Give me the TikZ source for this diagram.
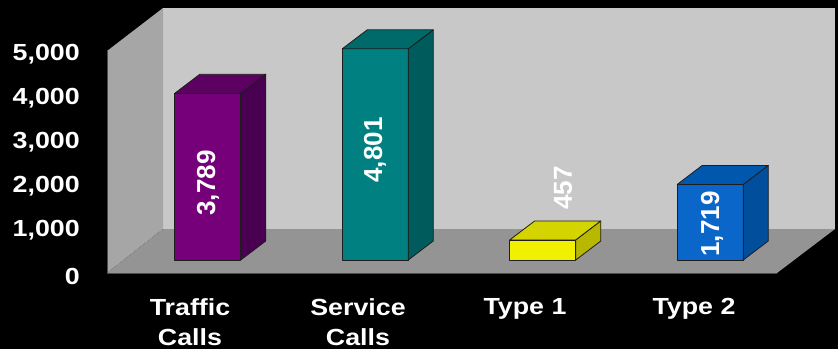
\documentclass[tikz,border=0pt]{standalone}
\usepackage{fontspec}
\usepackage{graphicx}
\setmainfont{Liberation Sans}
\definecolor{bg}{RGB}{0,0,0}
\definecolor{backwall}{RGB}{200,200,200}
\definecolor{sidewall}{RGB}{166,166,166}
\definecolor{floorc}{RGB}{148,148,148}
\definecolor{edge}{RGB}{30,30,30}
\definecolor{purF}{RGB}{118,0,122}
\definecolor{purS}{RGB}{74,0,80}
\definecolor{purT}{RGB}{92,0,98}
\definecolor{tealF}{RGB}{0,128,128}
\definecolor{tealS}{RGB}{0,92,92}
\definecolor{tealT}{RGB}{0,106,106}
\definecolor{yelF}{RGB}{240,240,0}
\definecolor{yelS}{RGB}{184,184,0}
\definecolor{yelT}{RGB}{212,212,0}
\definecolor{bluF}{RGB}{10,102,200}
\definecolor{bluS}{RGB}{0,78,156}
\definecolor{bluT}{RGB}{0,88,174}
\newcommand{\sx}[1]{\scalebox{1.15}[1]{#1}}
\newcommand{\drawcol}[5]{%
  \filldraw[fill=#3, draw=edge, line width=0.8pt, line join=round] (#1,260) rectangle (#1+66,#2);
  \filldraw[fill=#4, draw=edge, line width=0.8pt, line join=round] (#1+66,260) -- (#1+91,241) -- (#1+91,#2-19) -- (#1+66,#2) -- cycle;
  \filldraw[fill=#5, draw=edge, line width=0.8pt, line join=round] (#1,#2) -- (#1+66,#2) -- (#1+91,#2-19) -- (#1+25,#2-19) -- cycle;
}
\tikzset{
  axislabel/.style={anchor=east, inner sep=0pt, text=white, font=\fontsize{23.3}{28}\selectfont\bfseries},
  catlabel/.style={anchor=north, inner sep=0pt, align=center, text=white, font=\fontsize{23.3}{30}\selectfont\bfseries},
  vallabel/.style={rotate=90, inner sep=0pt, text=white, font=\fontsize{26}{30}\selectfont\bfseries}
}
\begin{document}
\begin{tikzpicture}[x=1pt, y=-1pt]
  \fill[bg] (0,0) rectangle (838,349);
  \useasboundingbox (0,0) rectangle (838,349);
  % walls and floor
  \fill[backwall] (163,8) rectangle (835,229);
  \fill[sidewall] (107,51) -- (163,8) -- (163,229) -- (107,273) -- cycle;
  \fill[floorc] (107,273) -- (163,229) -- (835,229) -- (777,273) -- cycle;
  \draw[gray!60!black, line width=0.6pt] (107,51) -- (107,273) -- (777,273);
  % axis labels
  \node[axislabel] (y0) at (80,276) {\sx{0}};
  \node[axislabel] (y1) at (80,230) {\sx{1,000}};
  \node[axislabel] (y2) at (80,186) {\sx{2,000}};
  \node[axislabel] (y3) at (80,142) {\sx{3,000}};
  \node[axislabel] (y4) at (80,98) {\sx{4,000}};
  \node[axislabel] (y5) at (80,54) {\sx{5,000}};
  % bars
  \drawcol{174.75}{93.3}{purF}{purS}{purT}
  \drawcol{342.25}{48.8}{tealF}{tealS}{tealT}
  \drawcol{509.75}{239.9}{yelF}{yelS}{yelT}
  \drawcol{677.25}{184.4}{bluF}{bluS}{bluT}
  % value labels
  \node[vallabel] (v1) at (208,183) {3,789};
  \node[vallabel] (v2) at (375,150) {4,801};
  \node[vallabel] (v3) at (563,188) {457};
  \node[vallabel] (v4) at (712,224) {1,719};
  % category labels
  \node[catlabel] (c1) at (190,298) {\sx{Traffic}\\\sx{Calls}};
  \node[catlabel] (c2) at (358,298) {\sx{Service}\\\sx{Calls}};
  \node[catlabel] (c3) at (525,298) {\sx{Type 1}};
  \node[catlabel] (c4) at (694,298) {\sx{Type 2}};
\end{tikzpicture}
\end{document}
